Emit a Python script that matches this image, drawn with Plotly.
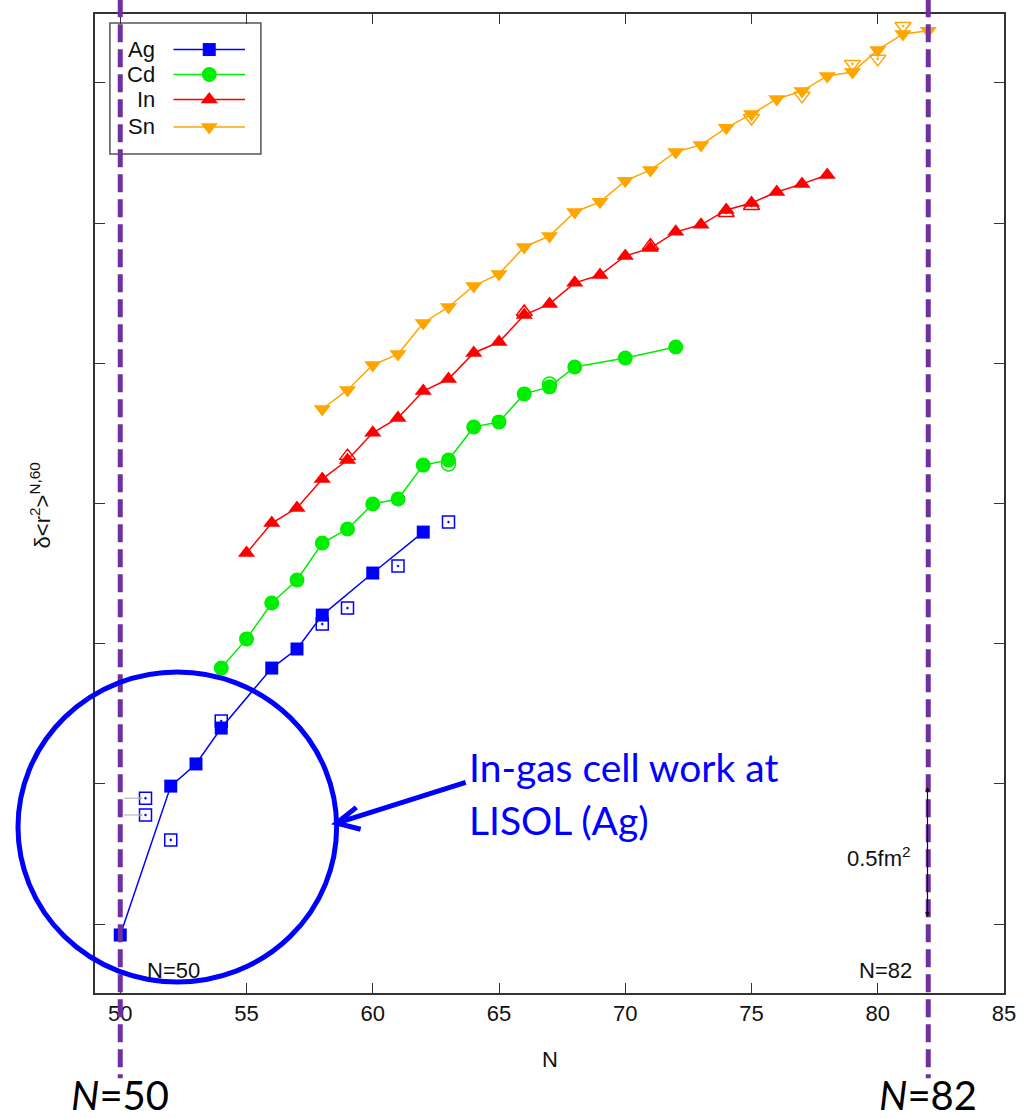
import plotly.graph_objects as go

# ---------------------------------------------------------------------------
# Changes in mean-square charge radius along the Ag, Cd, In and Sn chains
# (relative to N=60, chains offset vertically; one tick = 0.5 fm^2)
# ---------------------------------------------------------------------------
X_RANGE = [49, 85]
Y_RANGE = [-0.246, 3.246]

ag_n = [50, 52, 53, 54, 56, 57, 58, 60, 62]
ag_dr2 = [-0.039, 0.492, 0.571, 0.699, 0.913, 0.981, 1.102, 1.252, 1.398]
ag_open_n = [51, 51, 52, 54, 58, 59, 61, 63]
ag_open_dr2 = [0.449, 0.389, 0.300, 0.724, 1.070, 1.127, 1.277, 1.434]

cd_n = [54, 55, 56, 57, 58, 59, 60, 61, 62, 63, 64, 65, 66, 67, 68, 70, 72]
cd_dr2 = [0.913, 1.017, 1.145, 1.227, 1.359, 1.409, 1.498, 1.516, 1.637,
          1.655, 1.773, 1.791, 1.891, 1.916, 1.987, 2.019, 2.058]
cd_open_n = [63, 67]
cd_open_dr2 = [1.641, 1.926]

in_n = [55, 56, 57, 58, 59, 60, 61, 62, 63, 64, 65, 66, 67, 68, 69, 70, 71,
        72, 73, 74, 75, 76, 77, 78]
in_dr2 = [1.323, 1.430, 1.484, 1.587, 1.655, 1.752, 1.805, 1.901, 1.944,
          2.037, 2.076, 2.172, 2.212, 2.287, 2.315, 2.383, 2.411, 2.469,
          2.494, 2.547, 2.572, 2.611, 2.640, 2.672]
in_open_n = [59, 66, 71, 74, 75]
in_open_dr2 = [1.669, 2.183, 2.419, 2.536, 2.561]

sn_n = [58, 59, 60, 61, 62, 63, 64, 65, 66, 67, 68, 69, 70, 71, 72, 73, 74,
        75, 76, 77, 78, 79, 80, 81, 82]
sn_dr2 = [1.837, 1.905, 1.994, 2.033, 2.144, 2.201, 2.276, 2.319, 2.415,
          2.454, 2.540, 2.576, 2.651, 2.690, 2.754, 2.779, 2.840, 2.889,
          2.943, 2.971, 3.025, 3.039, 3.118, 3.175, 3.186]
sn_open_n = [75, 77, 79, 80, 81]
sn_open_dr2 = [2.875, 2.954, 3.068, 3.086, 3.203]

elements = ["Ag", "Cd", "In", "Sn"]
colors = {"Ag": "#0000ff", "Cd": "#00ee00", "In": "#ff0000", "Sn": "#ffa500"}
symbols = {"Ag": "square", "Cd": "circle", "In": "triangle-up", "Sn": "triangle-down"}
sizes = {"Ag": 13, "Cd": 15, "In": 15, "Sn": 15}
series = {
    "Ag": (ag_n, ag_dr2, ag_open_n, ag_open_dr2),
    "Cd": (cd_n, cd_dr2, cd_open_n, cd_open_dr2),
    "In": (in_n, in_dr2, in_open_n, in_open_dr2),
    "Sn": (sn_n, sn_dr2, sn_open_n, sn_open_dr2),
}

shell_closures = [50, 82]
tick_step = 0.5

GNU_FONT = "Liberation Sans, Arial, sans-serif"
SLIDE_FONT = "Lato, Open Sans, sans-serif"
PURPLE = "#7030a0"


def px(n):
    """N value -> paper x."""
    return (n - X_RANGE[0]) / (X_RANGE[1] - X_RANGE[0])


def py(v):
    """delta<r^2> value -> paper y."""
    return (v - Y_RANGE[0]) / (Y_RANGE[1] - Y_RANGE[0])


fig = go.Figure()

# open symbols (second data set) underneath the filled ones
for el in elements:
    n, v, n_o, v_o = series[el]
    fig.add_trace(go.Scatter(
        x=n_o, y=v_o, mode="markers", showlegend=False, cliponaxis=False,
        marker=dict(symbol=symbols[el] + "-open-dot", size=sizes[el] - 1,
                    color=colors[el], line=dict(width=1.5, color=colors[el])),
    ))

for el in elements:
    n, v, n_o, v_o = series[el]
    fig.add_trace(go.Scatter(
        x=n, y=v, mode="lines+markers", name=el, showlegend=False,
        cliponaxis=False,
        line=dict(color=colors[el], width=1.5),
        marker=dict(symbol=symbols[el], size=sizes[el], color=colors[el],
                    line=dict(width=0)),
    ))

# legend drawn by hand: label on the left, sample on the right
leg_x0, leg_x1 = 0.0164, 0.1825
leg_y0, leg_y1 = 0.857, 0.9908
row_y = [0.9637, 0.9382, 0.9127, 0.8846]
for el, ry in zip(elements, row_y):
    fig.add_trace(go.Scatter(
        x=[0.0863, 0.165], y=[ry, ry], xaxis="x2", yaxis="y2", mode="lines",
        line=dict(color=colors[el], width=1.5), showlegend=False,
        hoverinfo="skip", cliponaxis=False,
    ))
    fig.add_trace(go.Scatter(
        x=[0.1257], y=[ry], xaxis="x2", yaxis="y2", mode="markers",
        marker=dict(symbol=symbols[el], size=sizes[el], color=colors[el]),
        showlegend=False, hoverinfo="skip", cliponaxis=False,
    ))
    fig.add_annotation(
        text=el, x=0.0678, y=ry, xref="paper", yref="paper",
        xanchor="right", yanchor="middle", showarrow=False,
        font=dict(family=GNU_FONT, size=22, color="#111111"),
    )

shapes = [
    dict(type="rect", xref="paper", yref="paper", x0=leg_x0, x1=leg_x1,
         y0=leg_y0, y1=leg_y1, line=dict(color="#555555", width=1.5),
         layer="below"),
]

# shell-closure markers
for n_magic in shell_closures:
    shapes.append(dict(
        type="line", xref="x", yref="paper", x0=n_magic, x1=n_magic,
        y0=1.015, y1=-0.087, layer="above",
        line=dict(color=PURPLE, width=5, dash="18px,7px"),
    ))

# highlight around the light Ag isotopes
c_n, c_v, r_n, r_v = 52.26, 0.346, 6.31, 0.553
shapes.append(dict(
    type="circle", xref="paper", yref="paper",
    x0=px(c_n - r_n), x1=px(c_n + r_n), y0=py(c_v - r_v), y1=py(c_v + r_v),
    line=dict(color="#0000ff", width=5), layer="above",
))

# arrow from the note to the circle
tip = (58.57, 0.360)
tail = (63.68, 0.505)
arm1 = (59.35, 0.416)
arm2 = (59.52, 0.338)
path = "M {} {} L {} {} M {} {} L {} {} L {} {}".format(
    px(tail[0]), py(tail[1]), px(tip[0]), py(tip[1]),
    px(arm1[0]), py(arm1[1]), px(tip[0]), py(tip[1]), px(arm2[0]), py(arm2[1]),
)
shapes.append(dict(type="path", xref="paper", yref="paper", path=path,
                   line=dict(color="#0000ff", width=5), layer="above"))

fig.update_layout(shapes=shapes)

# scale bar: one tick = 0.5 fm^2
fig.add_annotation(
    x=81.97, y=0.49, ax=81.97, ay=0.02, xref="x", yref="y", axref="x",
    ayref="y", text="", showarrow=True, arrowside="end+start", arrowhead=2,
    arrowsize=0.8, arrowwidth=1.2, arrowcolor="#111111",
)
fig.add_annotation(
    x=81.4, y=0.24, xref="x", yref="y", xanchor="right", yanchor="middle",
    text="0.5fm<sup>2</sup>", showarrow=False,
    font=dict(family=GNU_FONT, size=22, color="#111111"),
)

# arrows pointing to the isomer points at N=51
for v in ag_open_dr2[:2]:
    fig.add_annotation(
        x=50.9, y=v, ax=50.08, ay=v, xref="x", yref="y", axref="x",
        ayref="y", text="", showarrow=True, arrowhead=2, arrowsize=0.7,
        arrowwidth=1, arrowcolor="#aaaaaa",
    )

# small N labels inside the frame
fig.add_annotation(x=50.98, y=-0.164, xref="x", yref="y", xanchor="left",
                   yanchor="middle", text="N=50", showarrow=False,
                   font=dict(family=GNU_FONT, size=22, color="#111111"))
fig.add_annotation(x=81.42, y=-0.164, xref="x", yref="y", xanchor="right",
                   yanchor="middle", text="N=82", showarrow=False,
                   font=dict(family=GNU_FONT, size=22, color="#111111"))

# large shell-closure labels below the axis
for n_magic in shell_closures:
    fig.add_annotation(x=n_magic, y=-0.1045, xref="x", yref="paper",
                       xanchor="center", yanchor="middle",
                       text="<i>N</i>=%d" % n_magic, showarrow=False,
                       font=dict(family=SLIDE_FONT, size=40, color="#000000"))

# note on the in-gas cell measurement
fig.add_annotation(x=px(63.75), y=py(0.56), xref="paper", yref="paper",
                   xanchor="left", yanchor="middle",
                   text="In-gas cell work at", showarrow=False,
                   font=dict(family=SLIDE_FONT, size=39, color="#0000ff"))
fig.add_annotation(x=px(63.75), y=py(0.37), xref="paper", yref="paper",
                   xanchor="left", yanchor="middle",
                   text="LISOL (Ag)", showarrow=False,
                   font=dict(family=SLIDE_FONT, size=39, color="#0000ff"))

# axis titles
fig.add_annotation(x=0.5, y=-0.0684, xref="paper", yref="paper",
                   xanchor="center", yanchor="middle", text="N",
                   showarrow=False,
                   font=dict(family=GNU_FONT, size=22, color="#111111"))
fig.add_annotation(x=-0.060, y=0.4985, xref="paper", yref="paper",
                   xanchor="center", yanchor="middle", textangle=-90,
                   text="δ&lt;r<sup>2</sup>&gt;<sup>N,60</sup>",
                   showarrow=False,
                   font=dict(family=GNU_FONT, size=22, color="#111111"))

fig.update_layout(
    width=1028, height=1118,
    margin=dict(l=95, r=18, t=14, b=125),
    paper_bgcolor="white", plot_bgcolor="white",
    showlegend=False,
    xaxis=dict(
        range=X_RANGE, tickmode="array", tickvals=list(range(50, 86, 5)),
        ticks="inside", ticklen=10, tickwidth=1.2, tickcolor="#333333",
        mirror="ticks", showline=True, linecolor="#333333", linewidth=1.5,
        showgrid=False, zeroline=False,
        tickfont=dict(family=GNU_FONT, size=22, color="#111111"),
    ),
    yaxis=dict(
        range=Y_RANGE, tickmode="array",
        tickvals=[i * tick_step for i in range(7)],
        ticks="inside", ticklen=10, tickwidth=1.2, tickcolor="#333333",
        mirror="ticks", showline=True, linecolor="#333333", linewidth=1.5,
        showgrid=False, zeroline=False, showticklabels=False,
    ),
    xaxis2=dict(overlaying="x", range=[0, 1], visible=False),
    yaxis2=dict(overlaying="y", range=[0, 1], visible=False),
)

fig.write_html("out.html")
